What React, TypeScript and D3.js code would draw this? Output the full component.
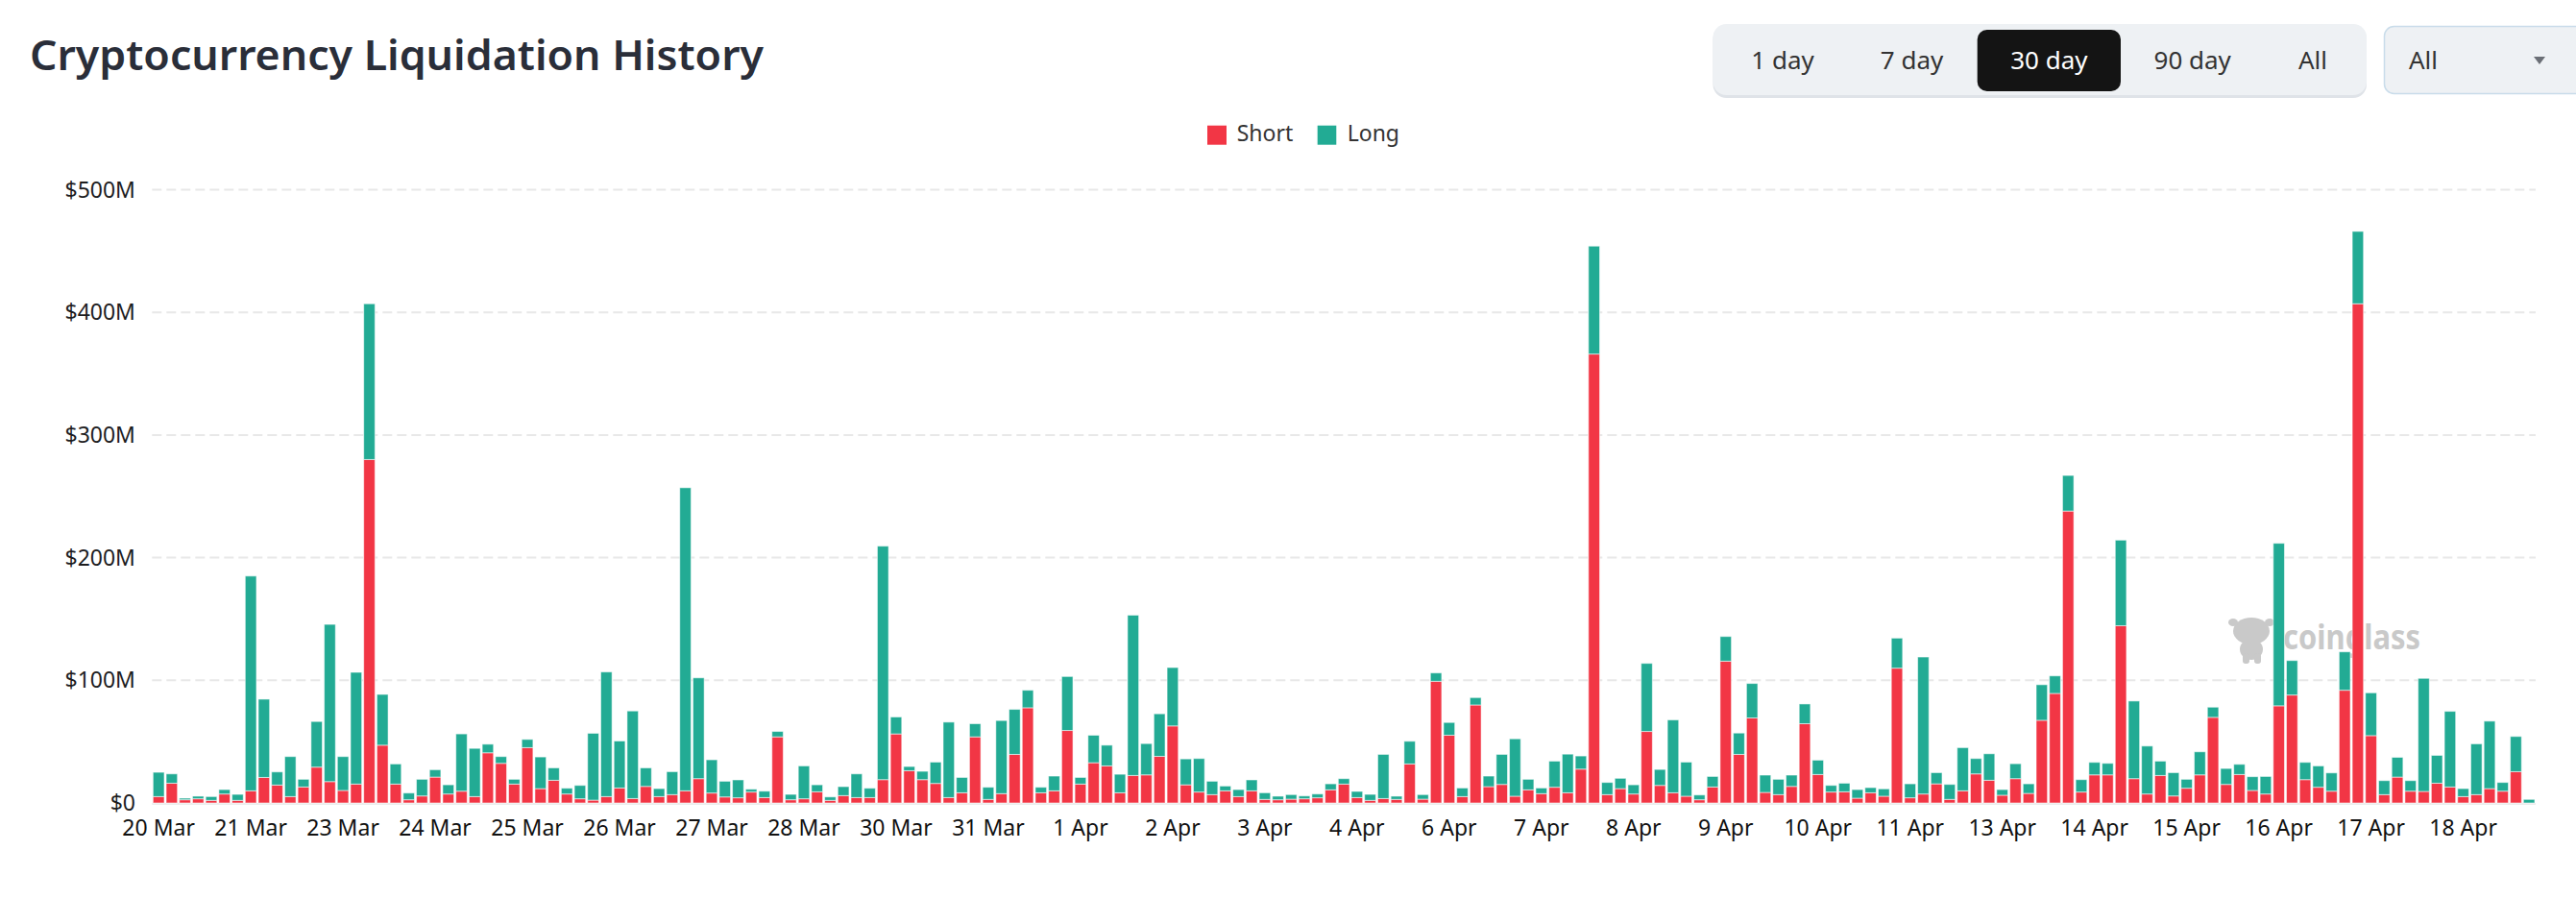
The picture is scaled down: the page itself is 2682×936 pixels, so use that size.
import React from 'react';
import * as d3 from 'd3';

// 4-hour liquidation totals, $M, starting 20 Mar 16:00
const shortValues = [
  5.2, 16.1, 2.6, 3.4, 2.1, 7.3, 2.1, 9.9, 20.8, 14.6, 5.2, 13.0, 29.2, 17.4, 10.2, 15.4, 280, 47.1, 15.4, 2.6,
  5.7, 21.1, 7.3, 9.6, 5.2, 40.9, 32.3, 15.4, 45.1, 11.7, 18.5, 7.3, 3.4, 2.3, 5.2, 12.2, 3.6, 13.5, 5.2, 6.8,
  9.9, 19.8, 8.1, 4.9, 4.2, 8.9, 4.4, 53.9, 2.6, 3.4, 9.1, 2.1, 6.0, 4.4, 4.4, 19.0, 56.3, 26.3, 19.0, 15.9,
  4.4, 8.3, 53.9, 2.9, 7.6, 39.6, 77.6, 8.3, 9.9, 59.1, 15.4, 32.8, 30.2, 8.3, 22.4, 22.9, 38.0, 62.8, 14.8, 8.9,
  6.8, 9.9, 5.2, 9.9, 2.9, 2.6, 3.1, 3.4, 4.2, 10.7, 15.4, 4.4, 2.1, 3.6, 2.9, 31.8, 3.1, 99.2, 55.2, 5.2,
  79.9, 13.3, 15.1, 5.5, 10.7, 7.6, 12.8, 8.3, 27.6, 366, 6.8, 11.7, 7.3, 58.3, 14.3, 8.3, 5.5, 2.6, 13.0, 115.6,
  39.6, 69.3, 8.6, 6.8, 13.5, 64.6, 23.2, 8.9, 9.1, 3.9, 8.3, 5.5, 109.9, 4.2, 7.3, 15.6, 2.9, 9.9, 23.7, 18.5,
  6.3, 19.8, 7.8, 67.4, 89.3, 238, 8.9, 22.9, 22.9, 144.5, 19.8, 7.3, 22.4, 5.7, 12.0, 22.9, 69.8, 15.1, 23.2, 10.2,
  7.3, 79.2, 88.0, 19.0, 12.8, 9.6, 91.9, 407, 54.9, 6.8, 21.1, 9.6, 9.4, 16.1, 13.0, 5.2, 6.8, 11.7, 9.6, 25.5,
  0,
];

const longValues = [
  19.8, 7.6, 1.3, 2.1, 3.1, 3.6, 4.9, 175.1, 63.8, 10.7, 32.6, 6.3, 37.2, 128.2, 27.6, 91.1, 127, 41.4, 16.4, 5.5,
  13.6, 6.0, 7.5, 46.7, 39.3, 7.0, 5.5, 3.9, 6.7, 25.8, 10.1, 4.7, 10.9, 54.5, 101.6, 38.3, 71.4, 15.1, 6.5, 18.7,
  247.1, 82.2, 27.1, 12.8, 14.6, 2.3, 5.2, 4.4, 4.4, 26.8, 5.7, 2.8, 7.3, 19.3, 7.6, 190.4, 13.8, 3.4, 6.8, 17.4,
  61.5, 12.5, 10.7, 9.9, 59.6, 36.7, 14.3, 4.5, 12.0, 44.0, 5.4, 22.4, 16.9, 15.1, 130.7, 25.5, 34.7, 47.6, 21.1, 27.3,
  10.9, 3.9, 5.7, 8.9, 5.4, 2.9, 3.7, 2.3, 3.1, 4.9, 4.4, 5.0, 4.9, 36.0, 2.6, 18.5, 3.7, 6.8, 10.4, 7.0,
  6.0, 8.6, 24.5, 46.8, 8.6, 4.6, 21.3, 31.5, 10.7, 88, 9.9, 8.4, 7.5, 55.5, 13.0, 59.4, 27.8, 3.9, 8.6, 20.1,
  17.4, 28.1, 14.1, 12.5, 9.2, 16.1, 11.7, 5.4, 7.0, 7.0, 4.2, 6.0, 24.5, 11.4, 111.7, 9.1, 12.2, 35.2, 12.5, 21.6,
  4.6, 12.2, 7.8, 29.0, 14.3, 29, 10.1, 10.2, 9.4, 69.8, 63.3, 39.1, 11.7, 19.0, 7.3, 18.8, 8.3, 13.0, 8.3, 11.2,
  14.3, 132.5, 28.1, 14.1, 17.4, 14.9, 31.3, 59, 34.9, 11.4, 16.1, 8.6, 92.2, 22.7, 61.7, 6.5, 41.4, 55.0, 7.1, 28.7,
  2.9,
];

const xTickLabels = [
  '20 Mar', '21 Mar', '23 Mar', '24 Mar', '25 Mar', '26 Mar', '27 Mar', '28 Mar', '30 Mar', '31 Mar',
  '1 Apr', '2 Apr', '3 Apr', '4 Apr', '6 Apr', '7 Apr', '8 Apr', '9 Apr', '10 Apr', '11 Apr',
  '13 Apr', '14 Apr', '15 Apr', '16 Apr', '17 Apr', '18 Apr',
];
const TICK_EVERY = 7;

const yTicks = [0, 100, 200, 300, 400, 500];
const ranges = ['1 day', '7 day', '30 day', '90 day', 'All'];
const activeRange = '30 day';

const W = 2682;
const H = 936;
const RED = '#f23645';
const GREEN = '#22ab94';
const FONT = '"Noto Sans", Roboto, sans-serif';

export default function App() {
  const idx = shortValues.map((_, i) => i);
  const x = d3.scaleBand<number>()
    .domain(idx)
    .range([158.3, 2640])
    .paddingInner(0.15)
    .paddingOuter(0.075);
  const y = d3.scaleLinear().domain([0, 500]).range([836, 197.5]);

  const stack = d3.stack<number, string>()
    .keys(['short', 'long'])
    .value((i, key) => (key === 'short' ? shortValues[i] : longValues[i]));
  const series = stack(idx);
  const colors: Record<string, string> = { short: RED, long: GREEN };

  // button label centres, measured off the toolbar
  const btnCenters: Record<string, number> = { '1 day': 1856, '7 day': 1990.5, '30 day': 2133.4, '90 day': 2282.7, All: 2408 };

  return (
    <svg width={W} height={H} style={{ position: 'absolute', left: 0, top: 0, background: '#fff' }} fontFamily={FONT}>
      {/* title */}
      <text x={31} y={73} fontSize={44} fontWeight={600} fill="#2a2e39" textLength={764} lengthAdjust="spacingAndGlyphs">
        Cryptocurrency Liquidation History
      </text>

      {/* range buttons */}
      <rect x={1783.5} y={27} width={680.5} height={75} rx={14} fill="#dfe3e8" />
      <rect x={1783.5} y={25} width={680.5} height={74} rx={14} fill="#eef1f4" />
      <rect x={2058.7} y={31} width={149.3} height={64} rx={10} fill="#141414" />
      {ranges.map(r => (
        <text key={r} x={btnCenters[r]} y={72} fontSize={26} textAnchor="middle"
          fill={r === activeRange ? '#fff' : '#333'}>{r}</text>
      ))}

      {/* dropdown */}
      <rect x={2482.5} y={27.5} width={210} height={70} rx={10} fill="#eef1f4" stroke="#c9dcea" strokeWidth={1.5} />
      <text x={2508} y={72} fontSize={26} fill="#333">All</text>
      <path d="M2638,59 L2650,59 L2644,67 Z" fill="#6b6f76" />

      {/* legend */}
      <rect x={1257} y={130.7} width={20} height={20} fill={RED} />
      <text x={1287.7} y={147.3} fontSize={23} fill="#333">Short</text>
      <rect x={1371.7} y={130.7} width={19.6} height={20} fill={GREEN} />
      <text x={1402.7} y={147.3} fontSize={23} fill="#333">Long</text>

      {/* grid + y labels */}
      {yTicks.map(t => (
        <g key={t}>
          {t > 0 && (
            <line x1={158.3} x2={2640} y1={y(t)} y2={y(t)} stroke="#e8e8e8" strokeWidth={2} strokeDasharray="10 5" />
          )}
          <text x={141} y={y(t)} dy="0.35em" fontSize={23} textAnchor="end" fill="#1d1d1f">
            {t === 0 ? '$0' : `$${t}M`}
          </text>
        </g>
      ))}
      <line x1={158.3} x2={2640} y1={837} y2={837} stroke="#ececec" strokeWidth={2} />

      {/* watermark */}
      <g fill="#c9c9c9">
        <ellipse cx={2344} cy={657} rx={19} ry={14} />
        <ellipse cx={2325} cy={648} rx={5} ry={4} />
        <ellipse cx={2363} cy={648} rx={5} ry={4} />
        <ellipse cx={2344} cy={676} rx={12} ry={11} />
        <rect x={2335} y={680} width={7} height={11} rx={3} />
        <rect x={2347} y={680} width={7} height={11} rx={3} />
        <text x={2377} y={676} fontSize={36} fontWeight={700} textLength={143} lengthAdjust="spacingAndGlyphs">coinglass</text>
      </g>

      {/* bars */}
      {series.map(s => (
        <g key={s.key} fill={colors[s.key]}>
          {s.map((d, i) => {
            const h = y(d[0]) - y(d[1]);
            if (h <= 0) return null;
            return (
              <rect key={i} x={x(i)} y={y(d[1])} width={x.bandwidth()} height={h}
                stroke="rgba(255,255,255,0.55)" strokeWidth={1} />
            );
          })}
        </g>
      ))}

      {/* x labels */}
      {xTickLabels.map((label, j) => (
        <text key={label} x={(x(j * TICK_EVERY) ?? 0) + x.bandwidth() / 2} y={870} fontSize={23}
          textAnchor="middle" fill="#111">{label}</text>
      ))}
    </svg>
  );
}
